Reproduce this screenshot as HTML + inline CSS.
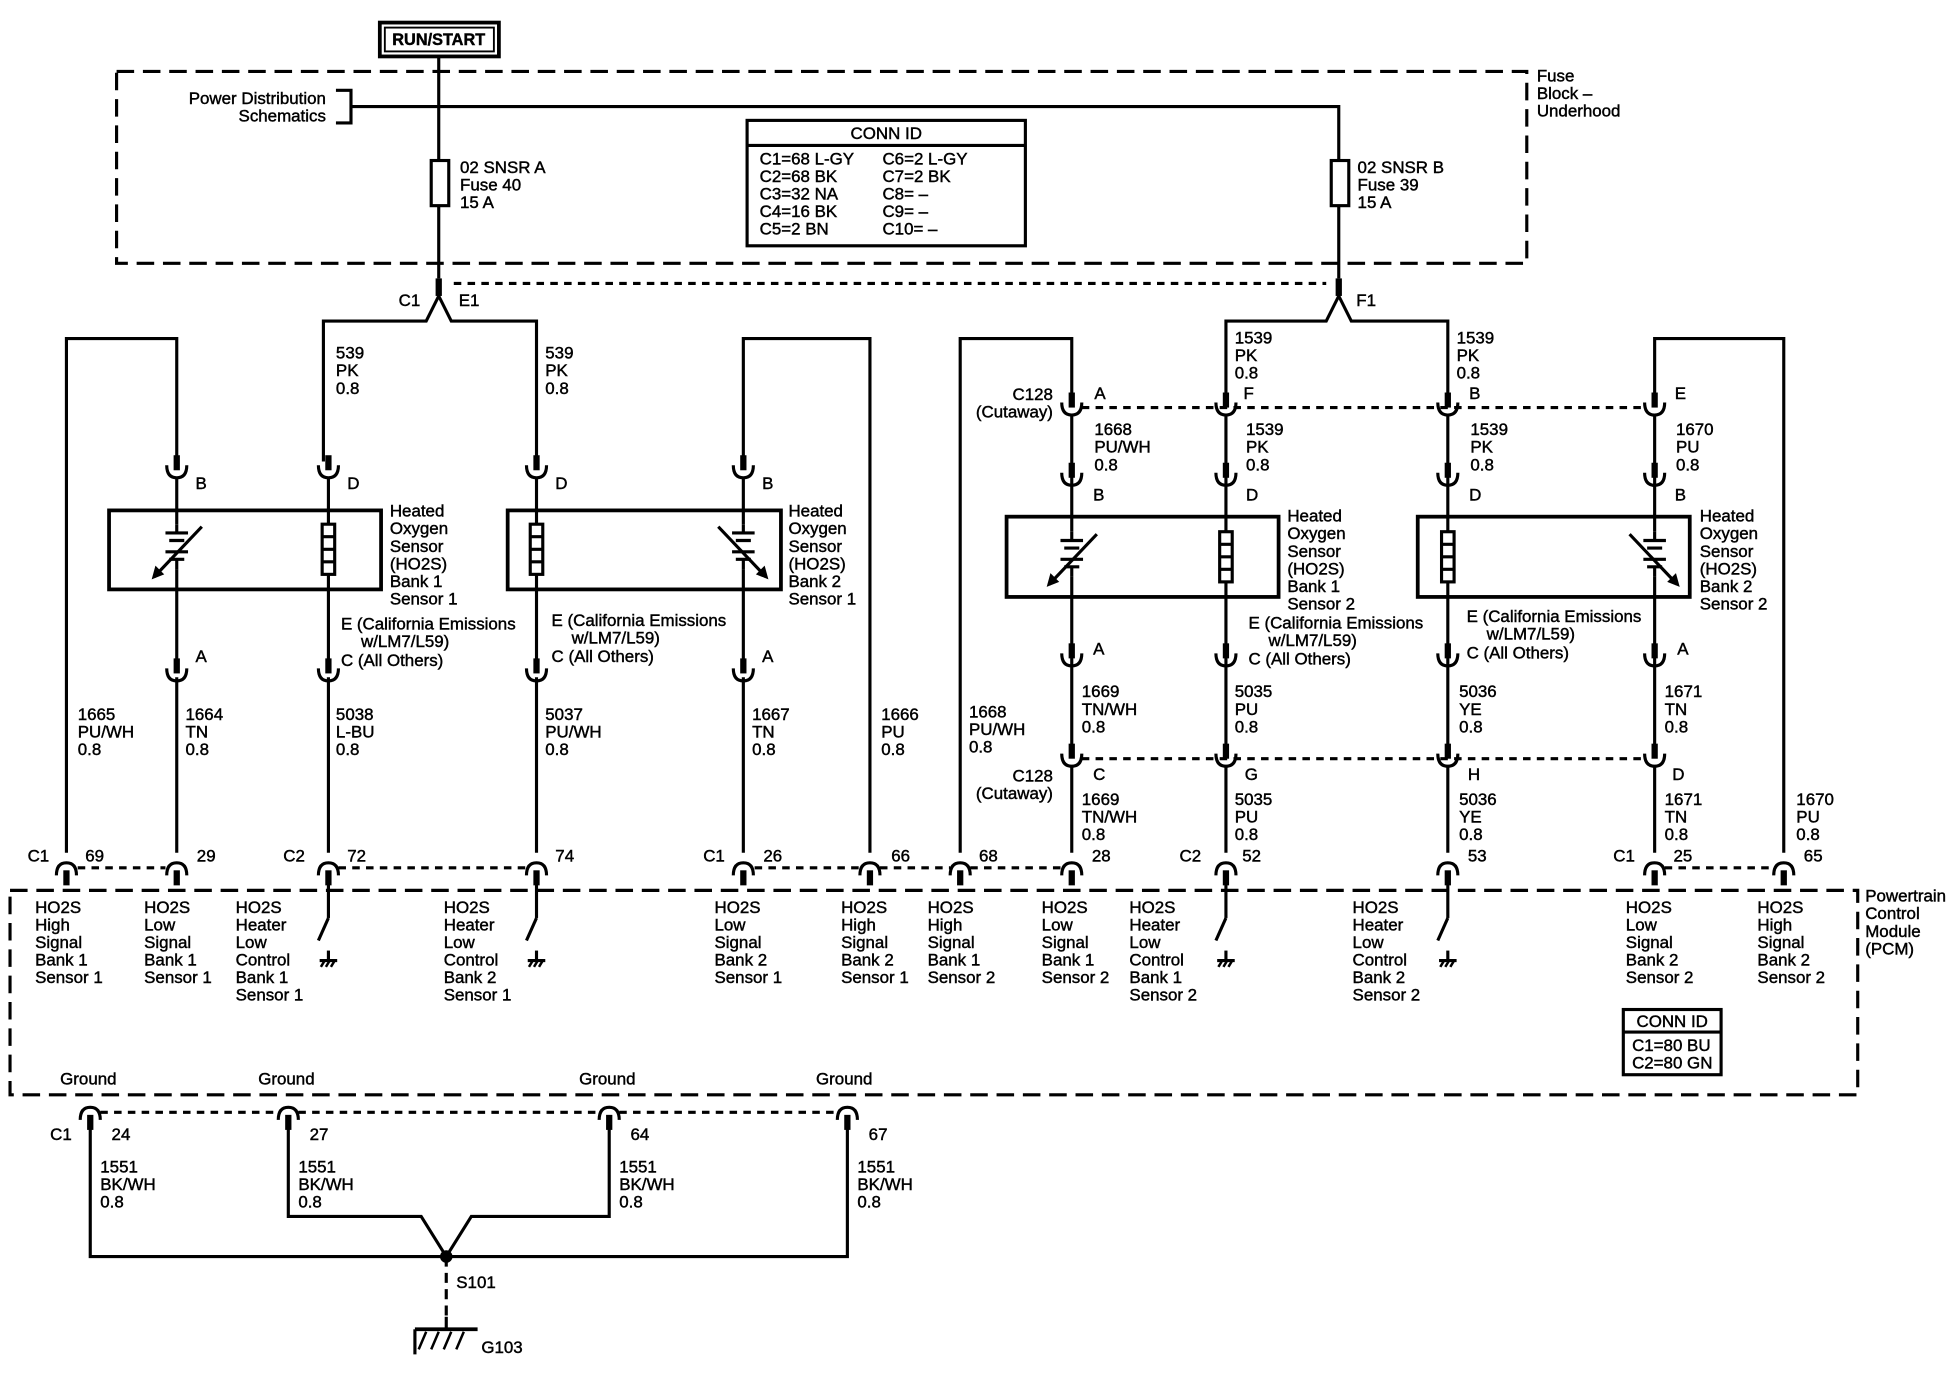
<!DOCTYPE html>
<html><head><meta charset="utf-8"><style>
html,body{margin:0;padding:0;background:#fff}
svg{display:block}
text{font-family:"Liberation Sans",Arial,sans-serif;font-size:13.5px;fill:#000;stroke:#000;stroke-width:0.35}
</style></head><body>
<svg width="1958" height="1392" viewBox="0 0 1562 1110" preserveAspectRatio="none" xmlns="http://www.w3.org/2000/svg">
<defs>
<g id="u"><path d="M-8,-4 Q-8,6 0,6 Q8,6 8,-4" fill="none" stroke="#000" stroke-width="2.5"/><line x1="0" y1="-12" x2="0" y2="0" stroke="#000" stroke-width="5"/></g>
<g id="n"><path d="M-8,6 Q-8,-4 0,-4 Q8,-4 8,6" fill="none" stroke="#000" stroke-width="2.5"/><line x1="0" y1="2" x2="0" y2="14" stroke="#000" stroke-width="5"/></g>
<g id="gnd"><line x1="0" y1="0" x2="0" y2="8" stroke="#000" stroke-width="2.5"/><line x1="-7" y1="8" x2="7" y2="8" stroke="#000" stroke-width="2.5"/><path d="M-3,8 l-3,5 M1,8 l-3,5 M5,8 l-3,5" stroke="#000" stroke-width="2"/></g>
<g id="heat"><rect x="-5" y="0" width="10" height="40" fill="#fff" stroke="#000" stroke-width="2.5"/><path d="M-5,10 h10 M-5,20 h10 M-5,30 h10" stroke="#000" stroke-width="2.5"/></g>
<g id="sens"><rect x="-8" y="-2" width="16" height="36" fill="#fff" stroke="none"/><path d="M-9,5 h18 M-6,11 h12 M-9,20 h18 M-6,26 h12" stroke="#000" stroke-width="2.5"/><path d="M0,-2 v7 M0,26 v8" stroke="#000" stroke-width="2.5"/><line x1="20" y1="0" x2="-18" y2="40" stroke="#000" stroke-width="2.5"/><path d="M-20,42 l3,-11 l7,7 z" fill="#000"/></g>
<g id="sensR"><rect x="-8" y="-2" width="16" height="36" fill="#fff" stroke="none"/><path d="M-9,5 h18 M-6,11 h12 M-9,20 h18 M-6,26 h12" stroke="#000" stroke-width="2.5"/><path d="M0,-2 v7 M0,26 v8" stroke="#000" stroke-width="2.5"/><line x1="-20" y1="0" x2="18" y2="40" stroke="#000" stroke-width="2.5"/><path d="M20,42 l-3,-11 l-7,7 z" fill="#000"/></g>
</defs>
<g fill="none" stroke="#000" stroke-width="2.5">
<!-- top -->
<rect x="303" y="18" width="95" height="27" stroke-width="3"/>
<rect x="307" y="22" width="87" height="19" stroke-width="1.5"/>
<rect x="93" y="57" width="1125" height="153" stroke-dasharray="14,7"/>
<line x1="350" y1="45" x2="350" y2="222"/>
<polyline points="280,85 1068,85 1068,222"/>
<polyline points="268,72 280,72 280,98 268,98"/>
<rect x="344" y="128" width="14" height="36" fill="#fff"/>
<rect x="1062" y="128" width="14" height="36" fill="#fff"/>
<rect x="596" y="96" width="222" height="100"/>
<line x1="596" y1="116" x2="818" y2="116"/>
<!-- C1/E1 -->
<polyline points="258,368 258,256 340,256 350,236 360,256 428,256 428,368"/>
<line x1="350" y1="222" x2="350" y2="236" stroke-width="5"/>
<polyline points="978,318 978,256 1058,256 1068,236 1078,256 1155,256 1155,318"/>
<line x1="1068" y1="222" x2="1068" y2="236" stroke-width="5"/>
<line x1="362" y1="226" x2="1058" y2="226" stroke-dasharray="6,5"/>
<!-- left loops -->
<polyline points="53,680 53,270 141,270 141,368"/>
<polyline points="694,680 694,270 593,270 593,368"/>
<polyline points="766,680 766,270 855,270 855,318"/>
<polyline points="1423,680 1423,270 1320,270 1320,318"/>
<!-- sensor 1 wires -->
<line x1="141" y1="380" x2="141" y2="530"/>
<line x1="262" y1="380" x2="262" y2="530"/>
<line x1="428" y1="380" x2="428" y2="530"/>
<line x1="593" y1="380" x2="593" y2="530"/>
<line x1="141" y1="540" x2="141" y2="680"/>
<line x1="262" y1="540" x2="262" y2="680"/>
<line x1="428" y1="540" x2="428" y2="680"/>
<line x1="593" y1="540" x2="593" y2="680"/>
<rect x="87" y="407" width="217" height="63" stroke-width="3"/>
<rect x="405" y="407" width="218" height="63" stroke-width="3"/>
<!-- sensor 2 wires -->
<line x1="855" y1="330" x2="855" y2="598"/>
<line x1="978" y1="330" x2="978" y2="598"/>
<line x1="1155" y1="330" x2="1155" y2="598"/>
<line x1="1320" y1="330" x2="1320" y2="598"/>
<line x1="855" y1="610" x2="855" y2="680"/>
<line x1="978" y1="610" x2="978" y2="680"/>
<line x1="1155" y1="610" x2="1155" y2="680"/>
<line x1="1320" y1="610" x2="1320" y2="680"/>
<rect x="803" y="412" width="217" height="64" stroke-width="3"/>
<rect x="1131" y="412" width="217" height="64" stroke-width="3"/>
<line x1="863" y1="325" x2="1312" y2="325" stroke-dasharray="6,5"/>
<line x1="863" y1="605" x2="1312" y2="605" stroke-dasharray="6,5"/>
<!-- PCM -->
<rect x="8" y="710" width="1474" height="163" stroke-dasharray="14,7"/>
<g stroke-dasharray="6,5">
<line x1="62" y1="692" x2="132" y2="692"/>
<line x1="270" y1="692" x2="420" y2="692"/>
<line x1="602" y1="692" x2="686" y2="692"/>
<line x1="702" y1="692" x2="758" y2="692"/>
<line x1="774" y1="692" x2="846" y2="692"/>
<line x1="1328" y1="692" x2="1414" y2="692"/>
<line x1="80" y1="887" x2="222" y2="887"/>
<line x1="238" y1="887" x2="478" y2="887"/>
<line x1="494" y1="887" x2="668" y2="887"/>
</g>
<!-- heater switches -->
<g>
<line x1="262" y1="700" x2="262" y2="732"/><line x1="262" y1="732" x2="254" y2="750"/>
<line x1="428" y1="700" x2="428" y2="732"/><line x1="428" y1="732" x2="420" y2="750"/>
<line x1="978" y1="700" x2="978" y2="732"/><line x1="978" y1="732" x2="970" y2="750"/>
<line x1="1155" y1="700" x2="1155" y2="732"/><line x1="1155" y1="732" x2="1147" y2="750"/>
</g>
<rect x="1295" y="805" width="78" height="52"/>
<line x1="1295" y1="823" x2="1373" y2="823"/>
<!-- grounds -->
<polyline points="72,899 72,1002 676,1002 676,899"/>
<polyline points="230,899 230,970 336,970 356,1002 376,970 486,970 486,899"/>
<line x1="356" y1="1002" x2="356" y2="1050" stroke-dasharray="8,5"/>
<line x1="356" y1="1050" x2="356" y2="1060"/>
<line x1="331" y1="1060" x2="381" y2="1060" stroke-width="3"/>
<line x1="331" y1="1060" x2="331" y2="1080"/>
<path d="M340,1062 l-6,14 M350,1062 l-6,14 M360,1062 l-6,14 M370,1062 l-6,14" stroke-width="2"/>
</g>
<circle cx="356" cy="1002" r="5" fill="#000"/>
<!-- connectors -->
<use href="#u" x="141" y="375"/><use href="#u" x="262" y="375"/><use href="#u" x="428" y="375"/><use href="#u" x="593" y="375"/>
<use href="#u" x="141" y="537"/><use href="#u" x="262" y="537"/><use href="#u" x="428" y="537"/><use href="#u" x="593" y="537"/>
<use href="#u" x="855" y="325"/><use href="#u" x="978" y="325"/><use href="#u" x="1155" y="325"/><use href="#u" x="1320" y="325"/>
<use href="#u" x="855" y="381"/><use href="#u" x="978" y="381"/><use href="#u" x="1155" y="381"/><use href="#u" x="1320" y="381"/>
<use href="#u" x="855" y="525"/><use href="#u" x="978" y="525"/><use href="#u" x="1155" y="525"/><use href="#u" x="1320" y="525"/>
<use href="#u" x="855" y="605"/><use href="#u" x="978" y="605"/><use href="#u" x="1155" y="605"/><use href="#u" x="1320" y="605"/>
<use href="#n" x="53" y="692"/><use href="#n" x="141" y="692"/><use href="#n" x="262" y="692"/><use href="#n" x="428" y="692"/>
<use href="#n" x="593" y="692"/><use href="#n" x="694" y="692"/><use href="#n" x="766" y="692"/><use href="#n" x="855" y="692"/>
<use href="#n" x="978" y="692"/><use href="#n" x="1155" y="692"/><use href="#n" x="1320" y="692"/><use href="#n" x="1423" y="692"/>
<use href="#n" x="72" y="887"/><use href="#n" x="230" y="887"/><use href="#n" x="486" y="887"/><use href="#n" x="676" y="887"/>
<use href="#gnd" x="262" y="758"/><use href="#gnd" x="428" y="758"/><use href="#gnd" x="978" y="758"/><use href="#gnd" x="1155" y="758"/>
<!-- sensor internals -->
<use href="#heat" x="262" y="418"/><use href="#sens" x="141" y="420"/>
<use href="#heat" x="428" y="418"/><use href="#sensR" x="593" y="420"/>
<use href="#heat" x="978" y="424"/><use href="#sens" x="855" y="426"/>
<use href="#heat" x="1155" y="424"/><use href="#sensR" x="1320" y="426"/>

<text x="350" y="36" text-anchor="middle" font-weight="bold" style="font-size:13px">RUN/START</text>
<text x="1226" y="65">Fuse</text><text x="1226" y="79">Block –</text><text x="1226" y="93">Underhood</text>
<text x="260" y="83" text-anchor="end">Power Distribution</text><text x="260" y="97" text-anchor="end">Schematics</text>
<text x="367" y="138">02 SNSR A</text><text x="367" y="152">Fuse 40</text><text x="367" y="166">15 A</text>
<text x="1083" y="138">02 SNSR B</text><text x="1083" y="152">Fuse 39</text><text x="1083" y="166">15 A</text>
<text x="707" y="111" text-anchor="middle">CONN ID</text>
<text x="606" y="131">C1=68 L-GY</text><text x="606" y="145">C2=68 BK</text><text x="606" y="159">C3=32 NA</text><text x="606" y="173">C4=16 BK</text><text x="606" y="187">C5=2 BN</text>
<text x="704" y="131">C6=2 L-GY</text><text x="704" y="145">C7=2 BK</text><text x="704" y="159">C8= –</text><text x="704" y="173">C9= –</text><text x="704" y="187">C10= –</text>
<text x="318" y="244">C1</text><text x="366" y="244">E1</text><text x="1082" y="244">F1</text>
<text x="268" y="286">539</text><text x="268" y="300">PK</text><text x="268" y="314">0.8</text>
<text x="435" y="286">539</text><text x="435" y="300">PK</text><text x="435" y="314">0.8</text>
<text x="985" y="274">1539</text><text x="985" y="288">PK</text><text x="985" y="302">0.8</text>
<text x="1162" y="274">1539</text><text x="1162" y="288">PK</text><text x="1162" y="302">0.8</text>
<text x="156" y="390">B</text><text x="277" y="390">D</text><text x="443" y="390">D</text><text x="608" y="390">B</text>
<text x="311" y="412">Heated</text><text x="311" y="426">Oxygen</text><text x="311" y="440">Sensor</text><text x="311" y="454">(HO2S)</text><text x="311" y="468">Bank 1</text><text x="311" y="482">Sensor 1</text>
<text x="629" y="412">Heated</text><text x="629" y="426">Oxygen</text><text x="629" y="440">Sensor</text><text x="629" y="454">(HO2S)</text><text x="629" y="468">Bank 2</text><text x="629" y="482">Sensor 1</text>
<text x="272" y="502">E (California Emissions</text><text x="288" y="516">w/LM7/L59)</text><text x="272" y="531">C (All Others)</text>
<text x="440" y="499">E (California Emissions</text><text x="456" y="513">w/LM7/L59)</text><text x="440" y="528">C (All Others)</text>
<text x="156" y="528">A</text><text x="608" y="528">A</text>
<text x="62" y="574">1665</text><text x="62" y="588">PU/WH</text><text x="62" y="602">0.8</text>
<text x="148" y="574">1664</text><text x="148" y="588">TN</text><text x="148" y="602">0.8</text>
<text x="268" y="574">5038</text><text x="268" y="588">L-BU</text><text x="268" y="602">0.8</text>
<text x="435" y="574">5037</text><text x="435" y="588">PU/WH</text><text x="435" y="602">0.8</text>
<text x="600" y="574">1667</text><text x="600" y="588">TN</text><text x="600" y="602">0.8</text>
<text x="703" y="574">1666</text><text x="703" y="588">PU</text><text x="703" y="602">0.8</text>
<text x="773" y="572">1668</text><text x="773" y="586">PU/WH</text><text x="773" y="600">0.8</text>
<text x="840" y="319" text-anchor="end">C128</text><text x="840" y="333" text-anchor="end">(Cutaway)</text>
<text x="840" y="623" text-anchor="end">C128</text><text x="840" y="637" text-anchor="end">(Cutaway)</text>
<text x="873" y="318">A</text><text x="992" y="318">F</text><text x="1172" y="318">B</text><text x="1336" y="318">E</text>
<text x="873" y="347">1668</text><text x="873" y="361">PU/WH</text><text x="873" y="375">0.8</text>
<text x="994" y="347">1539</text><text x="994" y="361">PK</text><text x="994" y="375">0.8</text>
<text x="1173" y="347">1539</text><text x="1173" y="361">PK</text><text x="1173" y="375">0.8</text>
<text x="1337" y="347">1670</text><text x="1337" y="361">PU</text><text x="1337" y="375">0.8</text>
<text x="872" y="399">B</text><text x="994" y="399">D</text><text x="1172" y="399">D</text><text x="1336" y="399">B</text>
<text x="1027" y="416">Heated</text><text x="1027" y="430">Oxygen</text><text x="1027" y="444">Sensor</text><text x="1027" y="458">(HO2S)</text><text x="1027" y="472">Bank 1</text><text x="1027" y="486">Sensor 2</text>
<text x="1356" y="416">Heated</text><text x="1356" y="430">Oxygen</text><text x="1356" y="444">Sensor</text><text x="1356" y="458">(HO2S)</text><text x="1356" y="472">Bank 2</text><text x="1356" y="486">Sensor 2</text>
<text x="996" y="501">E (California Emissions</text><text x="1012" y="515">w/LM7/L59)</text><text x="996" y="530">C (All Others)</text>
<text x="1170" y="496">E (California Emissions</text><text x="1186" y="510">w/LM7/L59)</text><text x="1170" y="525">C (All Others)</text>
<text x="872" y="522">A</text><text x="1338" y="522">A</text>
<text x="863" y="556">1669</text><text x="863" y="570">TN/WH</text><text x="863" y="584">0.8</text>
<text x="985" y="556">5035</text><text x="985" y="570">PU</text><text x="985" y="584">0.8</text>
<text x="1164" y="556">5036</text><text x="1164" y="570">YE</text><text x="1164" y="584">0.8</text>
<text x="1328" y="556">1671</text><text x="1328" y="570">TN</text><text x="1328" y="584">0.8</text>
<text x="872" y="622">C</text><text x="993" y="622">G</text><text x="1171" y="622">H</text><text x="1334" y="622">D</text>
<text x="863" y="642">1669</text><text x="863" y="656">TN/WH</text><text x="863" y="670">0.8</text>
<text x="985" y="642">5035</text><text x="985" y="656">PU</text><text x="985" y="670">0.8</text>
<text x="1164" y="642">5036</text><text x="1164" y="656">YE</text><text x="1164" y="670">0.8</text>
<text x="1328" y="642">1671</text><text x="1328" y="656">TN</text><text x="1328" y="670">0.8</text>
<text x="1433" y="642">1670</text><text x="1433" y="656">PU</text><text x="1433" y="670">0.8</text>
<text x="22" y="687">C1</text><text x="68" y="687">69</text><text x="157" y="687">29</text><text x="226" y="687">C2</text><text x="277" y="687">72</text><text x="443" y="687">74</text>
<text x="561" y="687">C1</text><text x="609" y="687">26</text><text x="711" y="687">66</text><text x="781" y="687">68</text><text x="871" y="687">28</text><text x="941" y="687">C2</text><text x="991" y="687">52</text><text x="1171" y="687">53</text><text x="1287" y="687">C1</text><text x="1335" y="687">25</text><text x="1439" y="687">65</text>
<text x="1488" y="719">Powertrain</text><text x="1488" y="733">Control</text><text x="1488" y="747">Module</text><text x="1488" y="761">(PCM)</text>
<g>
<text x="28" y="728">HO2S</text><text x="28" y="742">High</text><text x="28" y="756">Signal</text><text x="28" y="770">Bank 1</text><text x="28" y="784">Sensor 1</text>
<text x="115" y="728">HO2S</text><text x="115" y="742">Low</text><text x="115" y="756">Signal</text><text x="115" y="770">Bank 1</text><text x="115" y="784">Sensor 1</text>
<text x="188" y="728">HO2S</text><text x="188" y="742">Heater</text><text x="188" y="756">Low</text><text x="188" y="770">Control</text><text x="188" y="784">Bank 1</text><text x="188" y="798">Sensor 1</text>
<text x="354" y="728">HO2S</text><text x="354" y="742">Heater</text><text x="354" y="756">Low</text><text x="354" y="770">Control</text><text x="354" y="784">Bank 2</text><text x="354" y="798">Sensor 1</text>
<text x="570" y="728">HO2S</text><text x="570" y="742">Low</text><text x="570" y="756">Signal</text><text x="570" y="770">Bank 2</text><text x="570" y="784">Sensor 1</text>
<text x="671" y="728">HO2S</text><text x="671" y="742">High</text><text x="671" y="756">Signal</text><text x="671" y="770">Bank 2</text><text x="671" y="784">Sensor 1</text>
<text x="740" y="728">HO2S</text><text x="740" y="742">High</text><text x="740" y="756">Signal</text><text x="740" y="770">Bank 1</text><text x="740" y="784">Sensor 2</text>
<text x="831" y="728">HO2S</text><text x="831" y="742">Low</text><text x="831" y="756">Signal</text><text x="831" y="770">Bank 1</text><text x="831" y="784">Sensor 2</text>
<text x="901" y="728">HO2S</text><text x="901" y="742">Heater</text><text x="901" y="756">Low</text><text x="901" y="770">Control</text><text x="901" y="784">Bank 1</text><text x="901" y="798">Sensor 2</text>
<text x="1079" y="728">HO2S</text><text x="1079" y="742">Heater</text><text x="1079" y="756">Low</text><text x="1079" y="770">Control</text><text x="1079" y="784">Bank 2</text><text x="1079" y="798">Sensor 2</text>
<text x="1297" y="728">HO2S</text><text x="1297" y="742">Low</text><text x="1297" y="756">Signal</text><text x="1297" y="770">Bank 2</text><text x="1297" y="784">Sensor 2</text>
<text x="1402" y="728">HO2S</text><text x="1402" y="742">High</text><text x="1402" y="756">Signal</text><text x="1402" y="770">Bank 2</text><text x="1402" y="784">Sensor 2</text>
</g>
<text x="1334" y="819" text-anchor="middle">CONN ID</text><text x="1302" y="838">C1=80 BU</text><text x="1302" y="852">C2=80 GN</text>
<text x="48" y="865">Ground</text><text x="206" y="865">Ground</text><text x="462" y="865">Ground</text><text x="651" y="865">Ground</text>
<text x="40" y="909">C1</text><text x="89" y="909">24</text><text x="247" y="909">27</text><text x="503" y="909">64</text><text x="693" y="909">67</text>
<text x="80" y="935">1551</text><text x="80" y="949">BK/WH</text><text x="80" y="963">0.8</text>
<text x="238" y="935">1551</text><text x="238" y="949">BK/WH</text><text x="238" y="963">0.8</text>
<text x="494" y="935">1551</text><text x="494" y="949">BK/WH</text><text x="494" y="963">0.8</text>
<text x="684" y="935">1551</text><text x="684" y="949">BK/WH</text><text x="684" y="963">0.8</text>
<text x="364" y="1027">S101</text><text x="384" y="1079">G103</text>
</svg>
</body></html>
